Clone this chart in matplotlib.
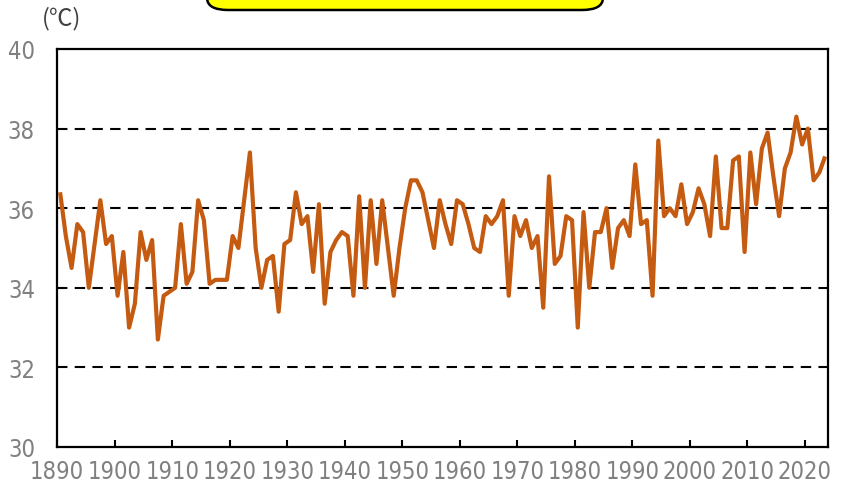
import matplotlib
matplotlib.use("Agg")
import matplotlib.pyplot as plt
from matplotlib import font_manager
from matplotlib.font_manager import FontProperties
from matplotlib.patches import FancyBboxPatch
import numpy as np

years = list(range(1890, 2024))
values = [
    36.4, 35.3, 34.5, 35.6, 35.4, 34.0, 35.1, 36.2, 35.1, 35.3,   # 1890-1899
    33.8, 34.9, 33.0, 33.6, 35.4, 34.7, 35.2, 32.7, 33.8, 33.9,   # 1900-1909
    34.0, 35.6, 34.1, 34.4, 36.2, 35.7, 34.1, 34.2, 34.2, 34.2,   # 1910-1919
    35.3, 35.0, 36.2, 37.4, 35.0, 34.0, 34.7, 34.8, 33.4, 35.1,   # 1920-1929
    35.2, 36.4, 35.6, 35.8, 34.4, 36.1, 33.6, 34.9, 35.2, 35.4,   # 1930-1939
    35.3, 33.8, 36.3, 34.0, 36.2, 34.6, 36.2, 35.0, 33.8, 35.0,   # 1940-1949
    36.0, 36.7, 36.7, 36.4, 35.7, 35.0, 36.2, 35.6, 35.1, 36.2,   # 1950-1959
    36.1, 35.6, 35.0, 34.9, 35.8, 35.6, 35.8, 36.2, 33.8, 35.8,   # 1960-1969
    35.3, 35.7, 35.0, 35.3, 33.5, 36.8, 34.6, 34.8, 35.8, 35.7,   # 1970-1979
    33.0, 35.9, 34.0, 35.4, 35.4, 36.0, 34.5, 35.5, 35.7, 35.3,   # 1980-1989
    37.1, 35.6, 35.7, 33.8, 37.7, 35.8, 36.0, 35.8, 36.6, 35.6,   # 1990-1999
    35.9, 36.5, 36.1, 35.3, 37.3, 35.5, 35.5, 37.2, 37.3, 34.9,   # 2000-2009
    37.4, 36.1, 37.5, 37.9, 36.8, 35.8, 37.0, 37.4, 38.3, 37.6,   # 2010-2019
    38.0, 36.7, 36.9, 37.3,                                       # 2020-2023
]
x_tick_years = list(range(1890, 2030, 10))
y_ticks = [30, 32, 34, 36, 38, 40]
unit_label = "(℃)"

# pick a narrow sans font if one is installed, else Liberation Sans at a smaller size
narrow = None
for f in font_manager.fontManager.ttflist:
    nm = f.name
    if ("Narrow" in nm or "Condensed" in nm or f.stretch in ("condensed", "semi-condensed")) \
            and "Sans" in nm and f.style == "normal" and f.weight in (400, "normal", "regular"):
        narrow = f.fname
        break
if narrow:
    tick_fp = FontProperties(fname=narrow, size=17)
else:
    tick_fp = FontProperties(family=["Liberation Sans", "DejaVu Sans"], size=15.5)

fig = plt.figure(figsize=(8.47, 4.89), dpi=100)
ax = fig.add_axes([57.2 / 847, 1 - 448 / 489, (828 - 57.2) / 847, (448 - 50) / 489])

xpos = np.array(years) + 0.5
ax.plot(xpos, values, color="#C55A11", linewidth=3.0, solid_joinstyle="round",
        solid_capstyle="butt", zorder=3)

ax.set_xlim(1890, 2024)
ax.set_ylim(30, 40)
for g in [32, 34, 36, 38]:
    ax.axhline(g, color="black", linewidth=1.5, linestyle=(0, (5, 3.5)), zorder=1)

ax.set_xticks(x_tick_years)
ax.set_xticklabels([str(y) for y in x_tick_years])
ax.set_yticks(y_ticks)
ax.set_yticklabels([str(v) for v in y_ticks])
ax.tick_params(axis="x", direction="in", length=5, width=1.5, color="black",
               pad=9, labelcolor="#808080")
ax.tick_params(axis="y", length=0, pad=16, labelcolor="#808080")
for lab in ax.get_xticklabels() + ax.get_yticklabels():
    lab.set_fontproperties(tick_fp)

for s in ax.spines.values():
    s.set_linewidth(1.6)
    s.set_color("black")

fig.text(62 / 847, 1 - 19 / 489, unit_label, ha="center", va="center", fontsize=17,
         color="#404040", family=["Noto Sans CJK JP", "DejaVu Sans"])

box = FancyBboxPatch((207 / 847, 1 - 11 / 489), (603 - 207) / 847, 0.2,
                     boxstyle="round,pad=0,rounding_size=0.025",
                     transform=fig.transFigure, facecolor="#FFFF00",
                     edgecolor="black", linewidth=1.8, clip_on=False)
fig.patches.append(box)

fig.savefig("out.png", dpi=100)
